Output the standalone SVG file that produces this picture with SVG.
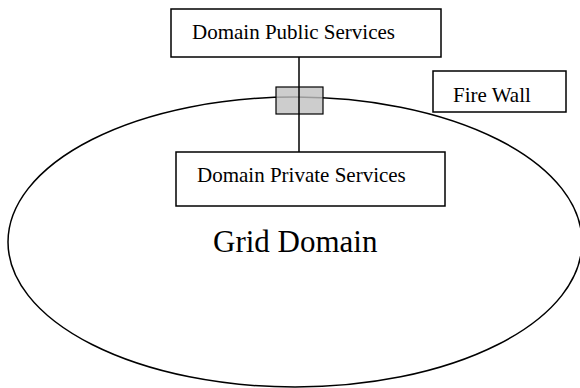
<svg xmlns="http://www.w3.org/2000/svg" width="580" height="388" viewBox="0 0 580 388">
  <style>
    .box { fill: #ffffff; stroke: #000000; stroke-width: 1.5; }
    .label { font-family: "Liberation Serif", "Times New Roman", serif; font-size: 21px; fill: #000000; }
    .big { font-family: "Liberation Serif", "Times New Roman", serif; font-size: 31px; fill: #000000; }
  </style>
  <rect width="580" height="388" fill="#ffffff"/>

  <!-- Grid domain boundary -->
  <g id="grid-domain">
    <ellipse cx="295" cy="242" rx="287" ry="145" fill="none" stroke="#000000" stroke-width="1.5"/>
    <text class="big" x="213" y="252">Grid Domain</text>
  </g>

  <!-- Firewall sitting on the domain boundary -->
  <g id="firewall">
    <rect x="276" y="87" width="47" height="27" fill="#c0c0c0" fill-opacity="0.8" stroke="#000000" stroke-width="1.2"/>
  </g>

  <!-- Link between public and private services -->
  <g id="connectors">
    <line x1="299" y1="57" x2="299" y2="152" stroke="#000000" stroke-width="1.5"/>
  </g>

  <g id="public-services">
    <rect class="box" x="171" y="9" width="270" height="48"/>
    <text class="label" x="192" y="39">Domain Public Services</text>
  </g>

  <g id="private-services">
    <rect class="box" x="176" y="152" width="269" height="54"/>
    <text class="label" x="197" y="182">Domain Private Services</text>
  </g>

  <g id="firewall-label">
    <rect class="box" x="433" y="71" width="133" height="41"/>
    <text class="label" x="453" y="102">Fire Wall</text>
  </g>
</svg>
